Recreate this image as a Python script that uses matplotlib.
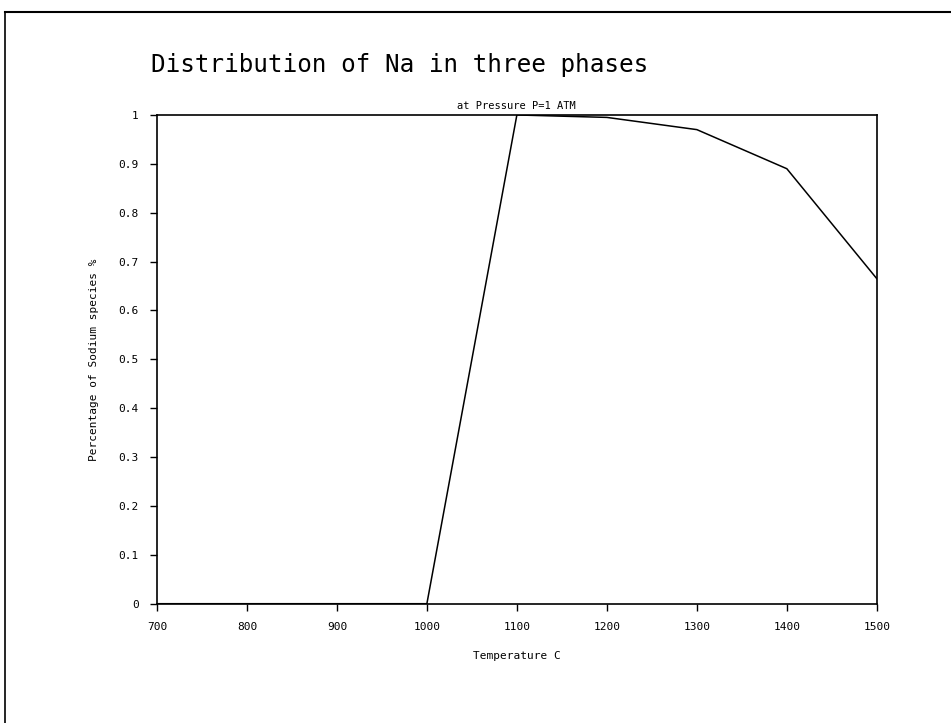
import numpy as np
import matplotlib.pyplot as plt
from matplotlib.lines import Line2D

## data
temperature = [700, 800, 900, 1000, 1100, 1200, 1300, 1400, 1500]
na_fraction = [0.0, 0.0, 0.0, 0.0, 1.0, 0.995, 0.97, 0.89, 0.665]
x_ticks = [700, 800, 900, 1000, 1100, 1200, 1300, 1400, 1500]
y_ticks = [0, 0.1, 0.2, 0.3, 0.4, 0.5, 0.6, 0.7, 0.8, 0.9, 1]
y_labels = ['0', '0.1', '0.2', '0.3', '0.4', '0.5', '0.6', '0.7', '0.8', '0.9', '1']

plt.rcParams['font.family'] = 'DejaVu Sans Mono'

fig = plt.figure(figsize=(9.51, 7.23), dpi=100)
ax = fig.add_axes([0.165, 0.165, 0.757, 0.676])

ax.plot(temperature, na_fraction, color='black', lw=1.1)
ax.set_xlim(700, 1500)
ax.set_ylim(0, 1)
ax.set_xticks(x_ticks)
ax.set_yticks(y_ticks)
ax.set_yticklabels(y_labels)
ax.tick_params(direction='out', length=5, width=1, labelsize=8, pad=8)
for s in ax.spines.values():
    s.set_linewidth(1.2)

ax.set_xlabel('Temperature C', fontsize=8, labelpad=14)
ax.set_ylabel('Percentage of Sodium species %', fontsize=8, labelpad=14)

fig.text(0.42, 0.91, 'Distribution of Na in three phases', fontsize=17.5,
         ha='center', va='center')
ax.set_title('at Pressure P=1 ATM', fontsize=7.5, pad=4)

## scanned page frame
fig.add_artist(Line2D([0.005, 0.005], [0.0, 0.983], color='black', lw=1.2))
fig.add_artist(Line2D([0.005, 1.0], [0.983, 0.983], color='black', lw=1.5))

fig.savefig('out.png', dpi=100)
